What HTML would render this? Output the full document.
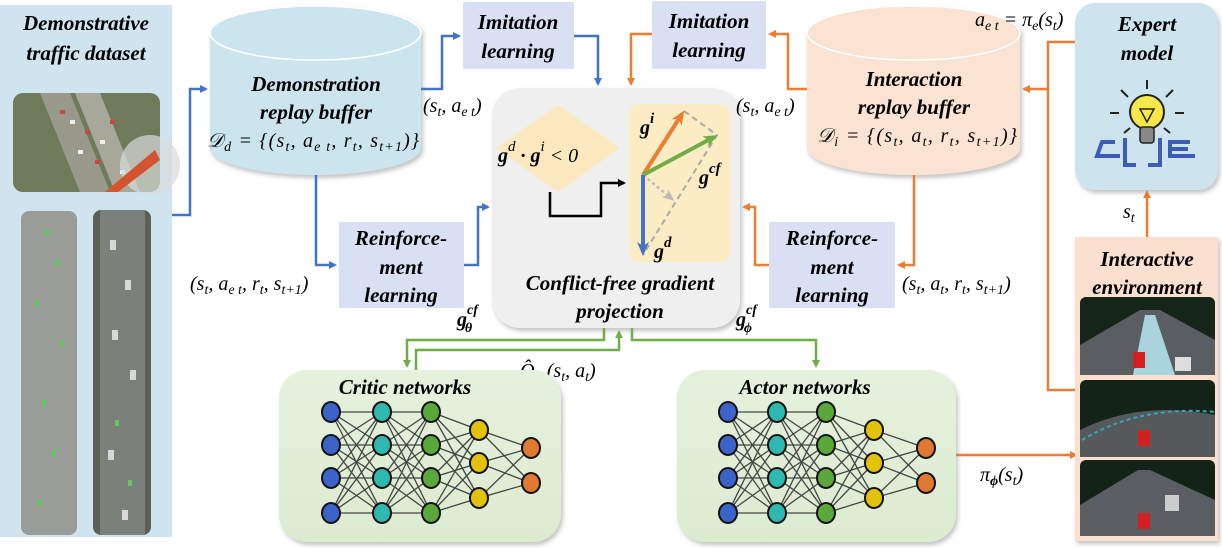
<!DOCTYPE html>
<html><head><meta charset="utf-8"><style>
html,body{margin:0;padding:0;background:#fff;width:1222px;height:548px;overflow:hidden}
svg{display:block}
.t{font-family:"Liberation Serif",serif;font-weight:bold;font-style:italic;font-size:21px;fill:#000;text-anchor:middle}
.m{font-family:"Liberation Serif",serif;font-style:italic;font-size:20px;fill:#000}
.b{fill:none;stroke:#4472c4;stroke-width:2.5}
.o{fill:none;stroke:#ed7d31;stroke-width:2.5}
.g{fill:none;stroke:#70ad47;stroke-width:2.5}
</style></head><body>
<svg id="s" width="1222" height="548" viewBox="0 0 1222 548" xmlns="http://www.w3.org/2000/svg">
<defs>
<marker id="ab" markerWidth="8" markerHeight="8" refX="6" refY="4" orient="auto" markerUnits="userSpaceOnUse"><path d="M0,0 L8,4 L0,8 z" fill="#4472c4"/></marker>
<marker id="ao" markerWidth="8" markerHeight="8" refX="6" refY="4" orient="auto" markerUnits="userSpaceOnUse"><path d="M0,0 L8,4 L0,8 z" fill="#ed7d31"/></marker>
<marker id="ag" markerWidth="8" markerHeight="8" refX="6" refY="4" orient="auto" markerUnits="userSpaceOnUse"><path d="M0,0 L8,4 L0,8 z" fill="#70ad47"/></marker>
<marker id="ak" markerWidth="8" markerHeight="8" refX="6" refY="4" orient="auto" markerUnits="userSpaceOnUse"><path d="M0,0 L8,4 L0,8 z" fill="#000"/></marker>
<marker id="vo" markerWidth="14" markerHeight="12" refX="10" refY="6" orient="auto" markerUnits="userSpaceOnUse"><path d="M0,0 L14,6 L0,12 L4,6 z" fill="#ed7d31"/></marker>
<marker id="vg" markerWidth="14" markerHeight="12" refX="10" refY="6" orient="auto" markerUnits="userSpaceOnUse"><path d="M0,0 L14,6 L0,12 L4,6 z" fill="#70ad47"/></marker>
<marker id="vb" markerWidth="14" markerHeight="12" refX="10" refY="6" orient="auto" markerUnits="userSpaceOnUse"><path d="M0,0 L14,6 L0,12 L4,6 z" fill="#4472c4"/></marker>
<marker id="vy" markerWidth="12" markerHeight="10" refX="9" refY="5" orient="auto" markerUnits="userSpaceOnUse"><path d="M0,0 L12,5 L0,10 L3,5 z" fill="#bbb"/></marker>
<linearGradient id="gr" x1="0" y1="0" x2="0" y2="1"><stop offset="0" stop-color="#e6f1dd"/><stop offset="1" stop-color="#dcebd0"/></linearGradient>
<filter id="sh" x="-10%" y="-10%" width="120%" height="120%"><feDropShadow dx="2" dy="3" stdDeviation="2" flood-color="#888" flood-opacity="0.5"/></filter>
</defs>

<!-- left panel -->
<rect x="0" y="5" width="172" height="532" fill="#cfe4ee"/>
<text class="t" x="86" y="30">Demonstrative</text>
<text class="t" x="86" y="60">traffic dataset</text>
<rect x="13" y="93" width="147" height="99" rx="10" fill="#6f7a5a"/>
<path d="M40,93 L80,192 L110,192 L70,93z" fill="#9a9a8c"/>
<path d="M75,93 L115,192 L140,192 L100,93z" fill="#a8a89a"/>
<g fill="#c44"><rect x="60" y="110" width="5" height="4"/><rect x="85" y="130" width="5" height="4"/><rect x="95" y="160" width="5" height="4"/><rect x="110" y="120" width="5" height="4"/></g>
<g fill="#eee"><rect x="70" y="120" width="5" height="4"/><rect x="78" y="150" width="5" height="4"/><rect x="100" y="140" width="5" height="4"/><rect x="120" y="170" width="5" height="4"/></g>
<circle cx="150" cy="165" r="30" fill="#d9dcdc" opacity="0.7"/>
<path d="M105,192 L155,150 L160,160 L118,192z" fill="#d3542e"/>
<rect x="21" y="211" width="56" height="324" rx="8" fill="#9a9c98"/>
<rect x="93" y="210" width="58" height="325" rx="8" fill="#5b5f55"/>
<rect x="100" y="210" width="45" height="325" fill="#7c807a"/>
<g fill="#5fc85f"><rect x="45" y="230" width="4" height="6"/><rect x="55" y="260" width="4" height="6"/><rect x="35" y="300" width="4" height="6"/><rect x="60" y="340" width="4" height="6"/><rect x="42" y="400" width="4" height="6"/><rect x="52" y="450" width="4" height="6"/><rect x="38" y="500" width="4" height="6"/><rect x="115" y="420" width="4" height="6"/><rect x="128" y="480" width="4" height="6"/></g>
<g fill="#d8d8d8"><rect x="110" y="240" width="6" height="10"/><rect x="125" y="280" width="6" height="10"/><rect x="112" y="330" width="6" height="10"/><rect x="130" y="370" width="6" height="10"/><rect x="108" y="450" width="6" height="10"/><rect x="122" y="510" width="6" height="10"/></g>

<!-- demo cylinder -->
<g filter="url(#sh)">
<path d="M210,33 L210,148 A105.5,27 0 0 0 421,148 L421,33 z" fill="#cce4ee"/>
<ellipse cx="315.5" cy="33" rx="105.5" ry="27" fill="#cce4ee" stroke="#fff" stroke-width="1.5"/>
</g>
<text class="t" x="316" y="91">Demonstration</text>
<text class="t" x="316" y="119">replay buffer</text>
<text class="m" x="207" y="147" font-size="21" textLength="212">𝒟<tspan font-size="14" dy="4">d</tspan><tspan dy="-4"> = {(s</tspan><tspan font-size="14" dy="4">t</tspan><tspan dy="-4">, a</tspan><tspan font-size="14" dy="4">e t</tspan><tspan dy="-4">, r</tspan><tspan font-size="14" dy="4">t</tspan><tspan dy="-4">, s</tspan><tspan font-size="14" dy="4">t+1</tspan><tspan dy="-4">)}</tspan></text>

<!-- interaction cylinder -->
<g filter="url(#sh)">
<path d="M807,33 L807,148 A106.5,27 0 0 0 1020,148 L1020,33 z" fill="#fbe3d3"/>
<ellipse cx="913.5" cy="33" rx="106.5" ry="27" fill="#fbe3d3" stroke="#fff" stroke-width="1.5"/>
</g>
<text class="t" x="914" y="86">Interaction</text>
<text class="t" x="914" y="114">replay buffer</text>
<text class="m" x="817" y="142" font-size="21" textLength="200">𝒟<tspan font-size="14" dy="4">i</tspan><tspan dy="-4"> = {(s</tspan><tspan font-size="14" dy="4">t</tspan><tspan dy="-4">, a</tspan><tspan font-size="14" dy="4">t</tspan><tspan dy="-4">, r</tspan><tspan font-size="14" dy="4">t</tspan><tspan dy="-4">, s</tspan><tspan font-size="14" dy="4">t+1</tspan><tspan dy="-4">)}</tspan></text>

<!-- imitation boxes -->
<rect x="463" y="2" width="111" height="67" fill="#d9e0f3"/>
<text class="t" x="518" y="29">Imitation</text>
<text class="t" x="518" y="58">learning</text>
<rect x="652" y="1" width="114" height="68" fill="#d9e0f3"/>
<text class="t" x="709" y="28">Imitation</text>
<text class="t" x="709" y="57">learning</text>

<!-- RL boxes -->
<rect x="339" y="222" width="125" height="86" fill="#d9e0f3"/>
<text class="t" x="401" y="245">Reinforce-</text>
<text class="t" x="401" y="274">ment</text>
<text class="t" x="401" y="302">learning</text>
<rect x="769" y="222" width="126" height="86" fill="#d9e0f3"/>
<text class="t" x="832" y="245">Reinforce-</text>
<text class="t" x="832" y="274">ment</text>
<text class="t" x="832" y="302">learning</text>

<!-- gray box -->
<rect x="492" y="88" width="248" height="240" rx="28" fill="#efefef" filter="url(#sh)"/>
<polygon points="558,105 620,148 558,192 496,148" fill="#fbe8bf"/>
<rect x="629" y="104" width="101" height="158" rx="10" fill="#fcecc4"/>
<text class="m" x="498" y="162" font-size="24" font-weight="bold" font-style="normal"><tspan font-style="italic">g</tspan><tspan font-size="15" dy="-11" font-weight="normal">d</tspan><tspan dy="11"> · </tspan><tspan font-style="italic">g</tspan><tspan font-size="15" dy="-11" font-weight="normal">i</tspan><tspan dy="11" font-weight="normal"> &lt; 0</tspan></text>
<path d="M550,192 L550,216 L601,216 L601,183 L624,183" fill="none" stroke="#000" stroke-width="2.5" marker-end="url(#ak)"/>
<path d="M684,111 L717,135 L643,255" fill="none" stroke="#aaa" stroke-width="2" stroke-dasharray="6,4"/>
<line x1="643" y1="175" x2="672" y2="199" stroke="#bbb" stroke-width="2.5" stroke-dasharray="3,3" marker-end="url(#vy)"/>
<line x1="643" y1="175" x2="682" y2="114" stroke="#ed7d31" stroke-width="4" marker-end="url(#vo)"/>
<line x1="643" y1="175" x2="714" y2="137" stroke="#70ad47" stroke-width="4" marker-end="url(#vg)"/>
<line x1="643" y1="175" x2="643" y2="252" stroke="#4472c4" stroke-width="4" marker-end="url(#vb)"/>
<text class="m" x="640" y="134" font-size="25" font-weight="bold">g<tspan font-size="15" dy="-11">i</tspan></text>
<text class="m" x="699" y="184" font-size="25" font-weight="bold">g<tspan font-size="15" dy="-11">cf</tspan></text>
<text class="m" x="654" y="258" font-size="25" font-weight="bold">g<tspan font-size="15" dy="-11">d</tspan></text>
<text class="t" x="620" y="290">Conflict-free gradient</text>
<text class="t" x="620" y="318">projection</text>

<!-- blue connectors -->
<path class="b" d="M172,215 L190,215 L190,89 L206,89" marker-end="url(#ab)"/>
<path class="b" d="M421,89 L442,89 L442,36 L459,36" marker-end="url(#ab)"/>
<path class="b" d="M574,36 L598,36 L598,84" marker-end="url(#ab)"/>
<path class="b" d="M316,175 L316,265 L335,265" marker-end="url(#ab)"/>
<path class="b" d="M464,265 L478,265 L478,207 L488,207" marker-end="url(#ab)"/>
<!-- orange connectors -->
<path class="o" d="M807,89 L788,89 L788,34 L770,34" marker-end="url(#ao)"/>
<path class="o" d="M652,34 L631,34 L631,84" marker-end="url(#ao)"/>
<path class="o" d="M914,175 L914,265 L899,265" marker-end="url(#ao)"/>
<path class="o" d="M769,265 L755,265 L755,207 L744,207" marker-end="url(#ao)"/>
<path class="o" d="M1075,42 L1048,42 L1048,390 L1080,390"/>
<path class="o" d="M1048,89 L1024,89" marker-end="url(#ao)"/>
<path class="o" d="M1147,237 L1147,192" marker-end="url(#ao)"/>
<path class="o" d="M956,455 L1076,455" marker-end="url(#ao)"/>

<!-- labels -->
<text class="m" x="423" y="112">(s<tspan font-size="14" dy="4">t</tspan><tspan dy="-4">, a</tspan><tspan font-size="14" dy="4">e t</tspan><tspan dy="-4">)</tspan></text>
<text class="m" x="736" y="112">(s<tspan font-size="14" dy="4">t</tspan><tspan dy="-4">, a</tspan><tspan font-size="14" dy="4">e t</tspan><tspan dy="-4">)</tspan></text>
<text class="m" x="190" y="290">(s<tspan font-size="14" dy="4">t</tspan><tspan dy="-4">, a</tspan><tspan font-size="14" dy="4">e t</tspan><tspan dy="-4">, r</tspan><tspan font-size="14" dy="4">t</tspan><tspan dy="-4">, s</tspan><tspan font-size="14" dy="4">t+1</tspan><tspan dy="-4">)</tspan></text>
<text class="m" x="902" y="290">(s<tspan font-size="14" dy="4">t</tspan><tspan dy="-4">, a</tspan><tspan font-size="14" dy="4">t</tspan><tspan dy="-4">, r</tspan><tspan font-size="14" dy="4">t</tspan><tspan dy="-4">, s</tspan><tspan font-size="14" dy="4">t+1</tspan><tspan dy="-4">)</tspan></text>
<text class="m" x="975" y="26">a<tspan font-size="14" dy="4">e t</tspan><tspan dy="-4"> = π</tspan><tspan font-size="14" dy="4">e</tspan><tspan dy="-4">(s</tspan><tspan font-size="14" dy="4">t</tspan><tspan dy="-4">)</tspan></text>
<text class="m" x="1123" y="218">s<tspan font-size="14" dy="4">t</tspan></text>
<text class="m" x="980" y="481">π<tspan font-size="14" dy="4" font-weight="bold">ϕ</tspan><tspan dy="-4">(s</tspan><tspan font-size="14" dy="4">t</tspan><tspan dy="-4">)</tspan></text>
<text class="m" x="457" y="326" font-size="23" font-weight="bold">g<tspan font-size="14" dy="-12">cf</tspan><tspan font-size="14" dx="-13" dy="18">θ</tspan></text>
<text class="m" x="736" y="326" font-size="23" font-weight="bold">g<tspan font-size="14" dy="-12">cf</tspan><tspan font-size="14" dx="-13" dy="18">ϕ</tspan></text>
<text class="m" x="520" y="377">Q̂<tspan font-size="14" dy="4" font-weight="bold">θ</tspan><tspan dy="-4"> (s</tspan><tspan font-size="14" dy="4">t</tspan><tspan dy="-4">, a</tspan><tspan font-size="14" dy="4">t</tspan><tspan dy="-4">)</tspan></text>

<!-- expert -->
<rect x="1075" y="3" width="143" height="187" rx="20" fill="#cde4ee" filter="url(#sh)"/>
<text class="t" x="1147" y="31">Expert</text>
<text class="t" x="1147" y="60">model</text>
<g stroke="#222" stroke-width="2">
<line x1="1147" y1="80" x2="1147" y2="89"/><line x1="1121" y1="90" x2="1128" y2="97"/><line x1="1173" y1="90" x2="1166" y2="97"/>
<line x1="1110" y1="113" x2="1119" y2="113"/><line x1="1175" y1="113" x2="1184" y2="113"/>
<line x1="1124" y1="133" x2="1130" y2="128"/><line x1="1170" y1="133" x2="1164" y2="128"/>
</g>
<circle cx="1147" cy="112" r="17" fill="#f7e84a" stroke="#222" stroke-width="2"/>
<path d="M1140,109 L1154,109 L1147,122z" fill="none" stroke="#222" stroke-width="1.5"/>
<rect x="1140" y="127" width="14" height="16" rx="3" fill="#888" stroke="#222" stroke-width="1.5"/>
<path d="M1115,142 L1102,142 L1097,156 L1120,156 M1125,138 L1125,165 L1136,165 M1160,138 L1160,165 L1148,165 M1190,142 L1170,142 L1170,156 L1195,156 M1172,149 L1188,149" fill="none" stroke="#3c5cb8" stroke-width="4"/>

<!-- env -->
<rect x="1075" y="237" width="143" height="304" fill="#fbe0cf" filter="url(#sh)"/>
<text class="t" x="1147" y="266">Interactive</text>
<text class="t" x="1147" y="294">environment</text>
<rect x="1080" y="297" width="135" height="78" rx="6" fill="#162519"/>
<path d="M1080,345 L1140,310 L1160,310 L1215,340 L1215,375 L1080,375z" fill="#5a5e62"/>
<path d="M1133,375 L1145,315 L1155,315 L1175,375z" fill="#a9d4de"/>
<rect x="1133" y="352" width="12" height="16" fill="#d02020"/><rect x="1175" y="357" width="16" height="14" fill="#ddd"/>
<rect x="1080" y="380" width="135" height="77" rx="6" fill="#142318"/>
<path d="M1080,430 Q1140,400 1215,415 L1215,457 L1080,457z" fill="#55595c"/>
<path d="M1082,440 Q1140,405 1215,412" fill="none" stroke="#2fa7b5" stroke-width="2" stroke-dasharray="4,3"/>
<rect x="1138" y="430" width="12" height="16" fill="#d02020"/>
<rect x="1080" y="460" width="135" height="76" rx="6" fill="#142318"/>
<path d="M1080,505 L1138,470 L1150,470 L1215,500 L1215,536 L1080,536z" fill="#5a5e62"/>
<rect x="1138" y="513" width="12" height="16" fill="#d02020"/><rect x="1165" y="495" width="14" height="16" fill="#ccc"/>

<!-- networks -->
<rect x="279" y="370" width="282" height="172" rx="28" fill="url(#gr)" filter="url(#sh)"/>
<rect x="677" y="370" width="279" height="172" rx="28" fill="url(#gr)" filter="url(#sh)"/>
<text class="t" x="405" y="394">Critic networks</text>
<text class="t" x="805" y="394">Actor networks</text>
<g id="nets"></g>

<!-- green connectors -->
<path class="g" d="M604,328 L604,340 L407,340 L407,366" marker-end="url(#ag)"/>
<path class="g" d="M416,370 L416,350 L619,350 L619,332" marker-end="url(#ag)"/>
<path class="g" d="M632,328 L632,340 L816,340 L816,366" marker-end="url(#ag)"/>
</svg>
<script>
(function(){
var g=document.getElementById('nets'),ns='http://www.w3.org/2000/svg';
var rows=[[412,445,478,513],[412,445,478,513],[412,445,478,513],[430,463,498],[448,483]];
var cols=['#3b63c9','#2fb8b0','#5aa83a','#e2c20a','#e07a30'];
function net(xs){
 for(var c=0;c<4;c++)for(var i=0;i<rows[c].length;i++)for(var j=0;j<rows[c+1].length;j++){
  var l=document.createElementNS(ns,'line');l.setAttribute('x1',xs[c]);l.setAttribute('y1',rows[c][i]);l.setAttribute('x2',xs[c+1]);l.setAttribute('y2',rows[c+1][j]);l.setAttribute('stroke','#444');l.setAttribute('stroke-width','1.3');g.appendChild(l);}
 for(var c=0;c<5;c++)for(var i=0;i<rows[c].length;i++){
  var e=document.createElementNS(ns,'ellipse');e.setAttribute('cx',xs[c]);e.setAttribute('cy',rows[c][i]);e.setAttribute('rx',9);e.setAttribute('ry',10);e.setAttribute('fill',cols[c]);e.setAttribute('stroke','#111');e.setAttribute('stroke-width','2');g.appendChild(e);}
}
net([331,382,431,479,531]);net([728,777,826,874,926]);
})();
</script>
</body></html>
